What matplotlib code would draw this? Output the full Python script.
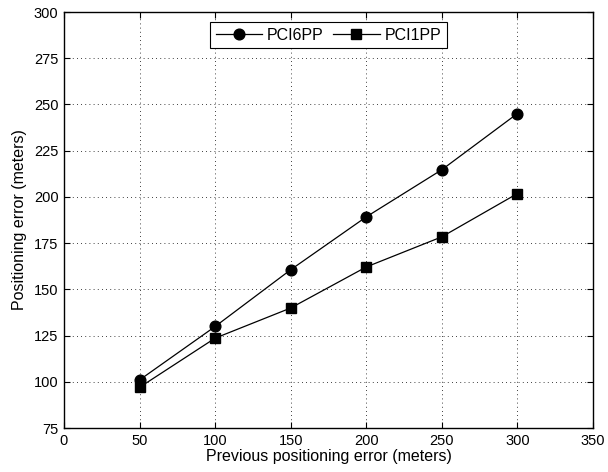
import matplotlib
matplotlib.use("Agg")
import matplotlib.pyplot as plt

x_values = [50, 100, 150, 200, 250, 300]
pci6pp = [101.0, 129.9, 160.6, 189.2, 214.7, 245.1]
pci1pp = [97.0, 123.6, 139.9, 162.1, 178.4, 201.8]
x_ticks = [0, 50, 100, 150, 200, 250, 300, 350]
y_ticks = [75, 100, 125, 150, 175, 200, 225, 250, 275, 300]

plt.rcParams['font.family'] = ['Liberation Sans', 'DejaVu Sans']
fig = plt.figure(figsize=(6.08, 4.72), dpi=100)
W, H = 608, 472
ax = fig.add_axes([64 / W, 1 - 428 / H, (593 - 64) / W, (428 - 12) / H])

ax.plot(x_values, pci6pp, '-', color='black', lw=0.9, marker='o', markersize=7.7, label='PCI6PP')
ax.plot(x_values, pci1pp, '-', color='black', lw=0.9, marker='s', markersize=6.5, label='PCI1PP')

ax.set_xlim(0, 350)
ax.set_ylim(75, 300)
ax.set_xticks(x_ticks)
ax.set_yticks(y_ticks)
ax.tick_params(direction='in', top=True, right=True, labelsize=10.5, length=4, width=0.8, pad=4)
ax.grid(True, linestyle=(0, (1, 4)), color='black', lw=0.6)
for s in ax.spines.values():
    s.set_linewidth(1.0)

ax.set_xlabel('Previous positioning error (meters)', fontsize=11.5, labelpad=1)
ax.set_ylabel('Positioning error (meters)', fontsize=11.5, labelpad=5)

leg = ax.legend(loc='upper center', ncol=2, fontsize=11.5, frameon=True, fancybox=False,
                edgecolor='black', framealpha=1, handlelength=2.9, columnspacing=0.6,
                borderpad=0.35, handletextpad=0.3, borderaxespad=0,
                bbox_to_anchor=(0.5, 0.976))
leg.get_frame().set_linewidth(0.8)

fig.savefig('out.png', dpi=100)
